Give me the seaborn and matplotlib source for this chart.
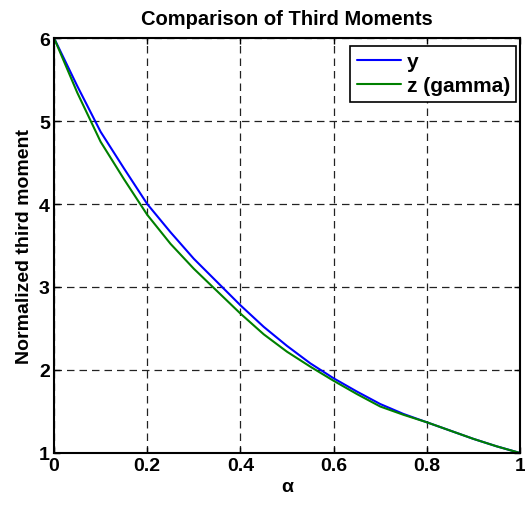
import pandas as pd
import numpy as np
import matplotlib
matplotlib.use("Agg")
import matplotlib.pyplot as plt
import seaborn as sns

# values
alpha = [0.0, 0.05, 0.1, 0.15, 0.2, 0.25, 0.3, 0.35, 0.4, 0.45, 0.5,
         0.55, 0.6, 0.65, 0.7, 0.75, 0.8, 0.85, 0.9, 0.95, 1.0]
y_vals = [6.0, 5.42, 4.87, 4.43, 4.0, 3.66, 3.34, 3.06, 2.78, 2.52, 2.29,
          2.08, 1.90, 1.74, 1.59, 1.47, 1.37, 1.27, 1.17, 1.08, 1.0]
z_vals = [6.0, 5.34, 4.75, 4.30, 3.87, 3.52, 3.22, 2.95, 2.68, 2.43, 2.22,
          2.04, 1.87, 1.71, 1.56, 1.46, 1.37, 1.27, 1.17, 1.08, 1.0]
series = ["y", "z (gamma)"]
colors = ["#0000ff", "#008000"]
xticks = [0, 0.2, 0.4, 0.6, 0.8, 1]
xtick_labels = ["0", "0.2", "0.4", "0.6", "0.8", "1"]
yticks = [1, 2, 3, 4, 5, 6]

df = pd.DataFrame({
    "alpha": alpha * 2,
    "value": y_vals + z_vals,
    "series": [series[0]] * len(alpha) + [series[1]] * len(alpha),
})

sns.set_theme(style="white")
plt.rcParams['font.family'] = ['Liberation Sans', 'DejaVu Sans']
plt.rcParams['font.weight'] = 'bold'
plt.rcParams['text.color'] = 'black'
plt.rcParams['axes.labelcolor'] = 'black'

fig = plt.figure(figsize=(5.25, 5.06), dpi=100)
ax = fig.add_axes([0.1029, 0.1028, 0.8876, 0.8201])

sns.lineplot(data=df, x="alpha", y="value", hue="series", palette=colors,
             linewidth=1.5, ax=ax)

ax.set_xlim(0, 1)
ax.set_ylim(1, 6)
ax.set_xticks(xticks)
ax.set_xticklabels(xtick_labels)
ax.set_yticks(yticks)
ax.tick_params(direction="in", length=4, width=1, labelsize=14, pad=3,
               top=True, right=True, bottom=True, left=True, colors="black")
for lab in ax.get_xticklabels() + ax.get_yticklabels():
    lab.set_fontweight("bold")
for sp in ax.spines.values():
    sp.set_color("black")
    sp.set_linewidth(1.5)

ax.grid(True, color="#222222", linestyle=(0, (6, 4)), linewidth=0.9)
ax.set_axisbelow(True)

ax.set_title("Comparison of Third Moments", fontsize=14.5, fontweight="bold",
             pad=10, color="black")
ax.set_xlabel("α", fontsize=14, fontweight="bold", labelpad=3)
ax.set_ylabel("Normalized third moment", fontsize=14, fontweight="bold", labelpad=4)

leg = ax.legend(loc="upper right", bbox_to_anchor=(0.9914, 0.9807), fontsize=15,
                frameon=True, fancybox=False, edgecolor="black", framealpha=1,
                handlelength=2.15, handletextpad=0.25, borderaxespad=0,
                borderpad=0.3, labelspacing=0.25)
leg.get_frame().set_linewidth(1.2)
for t in leg.get_texts():
    t.set_fontweight("bold")
    t.set_color("black")

plt.savefig("out.png", dpi=100)
